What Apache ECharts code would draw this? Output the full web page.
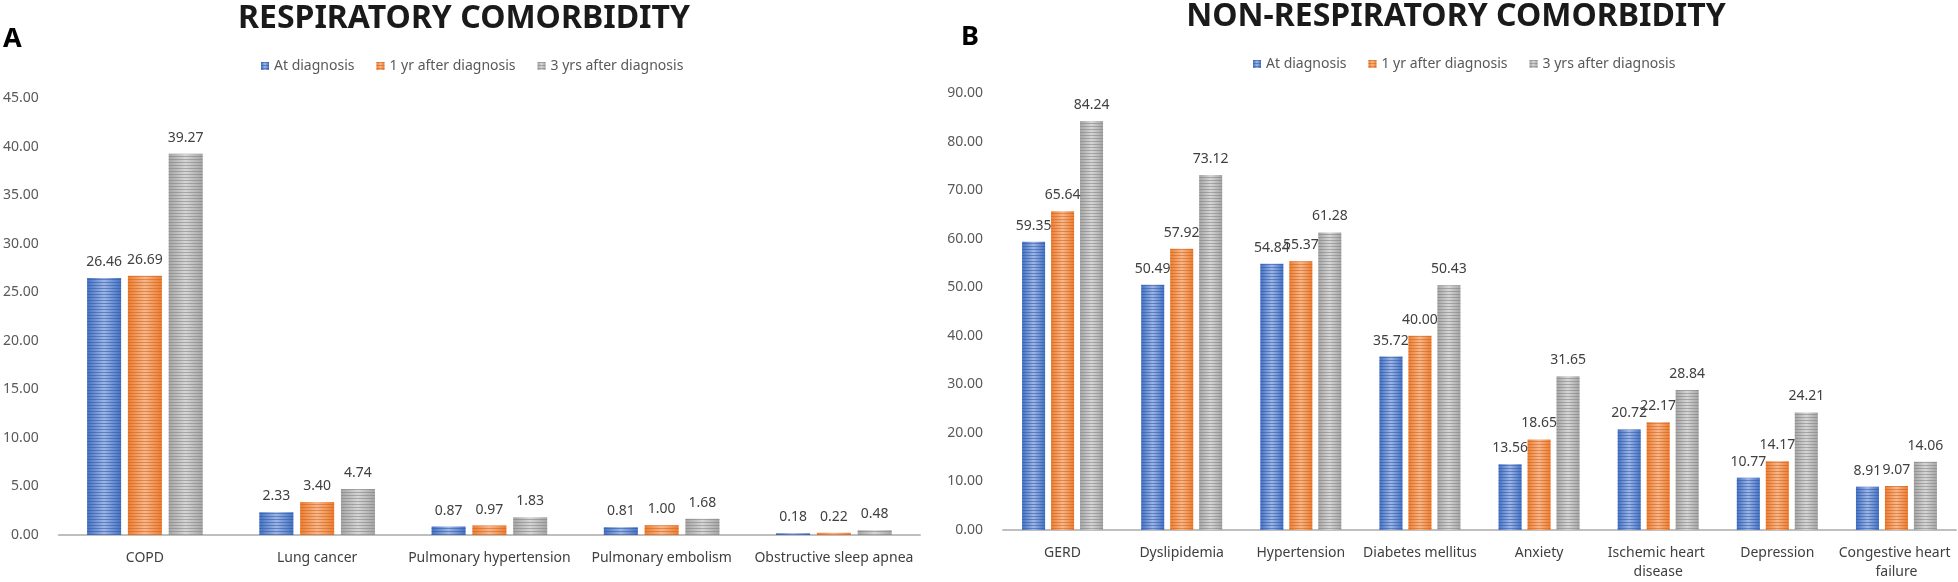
<!DOCTYPE html>
<html>
<head>
<meta charset="utf-8">
<script src="https://cdn.jsdelivr.net/npm/echarts@6/dist/echarts.min.js"></script>
<style>
  html, body { margin: 0; padding: 0; background: #fff; }
  #chart { width: 1958px; height: 582px; }
</style>
</head>
<body>
<div id="chart"></div>
<script>
const seriesNames = ['At diagnosis', '1 yr after diagnosis', '3 yrs after diagnosis'];

const respCategories = ['COPD', 'Lung cancer', 'Pulmonary hypertension', 'Pulmonary embolism', 'Obstructive sleep apnea'];
const respAtDiagnosis = [26.46, 2.33, 0.87, 0.81, 0.18];
const respOneYear = [26.69, 3.40, 0.97, 1.00, 0.22];
const respThreeYears = [39.27, 4.74, 1.83, 1.68, 0.48];

const nonRespCategories = ['GERD', 'Dyslipidemia', 'Hypertension', 'Diabetes mellitus', 'Anxiety', 'Ischemic heart disease', 'Depression', 'Congestive heart failure'];
const nonRespAtDiagnosis = [59.35, 50.49, 54.84, 35.72, 13.56, 20.72, 10.77, 8.91];
const nonRespOneYear = [65.64, 57.92, 55.37, 40.00, 18.65, 22.17, 14.17, 9.07];
const nonRespThreeYears = [84.24, 73.12, 61.28, 50.43, 31.65, 28.84, 24.21, 14.06];

const respAxis = { min: 0, max: 45, interval: 5 };
const nonRespAxis = { min: 0, max: 90, interval: 10 };

const palette = [
  { base: '#4472C4', light: '#9db6e6', stripe: 'rgba(47, 85, 160, 0.55)' },
  { base: '#ED7D31', light: '#f7b88c', stripe: 'rgba(204, 96, 28, 0.55)' },
  { base: '#A5A5A5', light: '#d6d6d6', stripe: 'rgba(128, 128, 128, 0.55)' },
];

const FONT = '"Noto Sans", "Open Sans", sans-serif';

function barStyle(i) {
  const p = palette[i];
  return {
    color: new echarts.graphic.LinearGradient(0, 0, 1, 0, [
      { offset: 0, color: p.base },
      { offset: 0.5, color: p.light },
      { offset: 1, color: p.base },
    ]),
    decal: {
      symbol: 'rect',
      symbolSize: 1,
      dashArrayX: [1, 0],
      dashArrayY: [1, 2],
      rotation: 0,
      color: p.stripe,
    },
  };
}

function makeSeries(name, data, idx, axisIdx, barWidth, barGap) {
  return {
    name,
    type: 'bar',
    xAxisIndex: axisIdx,
    yAxisIndex: axisIdx,
    data,
    barWidth,
    barGap,
    itemStyle: barStyle(idx),
    label: {
      show: true,
      position: 'top',
      distance: 9,
      color: '#404040',
      fontSize: 14,
      fontFamily: FONT,
      formatter: p => p.value.toFixed(2),
    },
  };
}

function legendAt(left, top) {
  return {
    data: seriesNames,
    left,
    top,
    icon: 'rect',
    itemWidth: 8,
    itemHeight: 8,
    itemGap: 22,
    textStyle: { color: '#595959', fontSize: 14, fontFamily: FONT },
  };
}

function valueAxis(gridIndex, range) {
  return {
    type: 'value',
    gridIndex,
    min: range.min,
    max: range.max,
    interval: range.interval,
    axisLine: { show: false },
    axisTick: { show: false },
    splitLine: { show: false },
    axisLabel: {
      color: '#595959',
      fontSize: 14,
      fontFamily: FONT,
      margin: 20,
      formatter: v => v.toFixed(2),
    },
  };
}

function categoryAxis(gridIndex, data, extraLabel) {
  return {
    type: 'category',
    gridIndex,
    data,
    axisLine: { lineStyle: { color: '#BFBFBF', width: 2 } },
    axisTick: { show: false },
    axisLabel: Object.assign({
      interval: 0,
      color: '#404040',
      fontSize: 14,
      fontFamily: FONT,
      margin: 14,
      lineHeight: 19,
    }, extraLabel || {}),
  };
}

const chart = echarts.init(document.getElementById('chart'));

chart.setOption({
  animation: false,
  graphic: [
    { type: 'text', x: 464, y: 19, style: { text: 'RESPIRATORY COMORBIDITY', font: 'bold 32px ' + FONT, fill: '#1a1a1a', textAlign: 'center', align: 'center', textVerticalAlign: 'middle', verticalAlign: 'middle' } },
    { type: 'text', x: 1456, y: 17, style: { text: 'NON-RESPIRATORY COMORBIDITY', font: 'bold 32px ' + FONT, fill: '#1a1a1a', textAlign: 'center', align: 'center', textVerticalAlign: 'middle', verticalAlign: 'middle' } },
    { type: 'text', x: 3, y: 39, style: { text: 'A', font: 'bold 27px ' + FONT, fill: '#000', textVerticalAlign: 'middle', verticalAlign: 'middle' } },
    { type: 'text', x: 961, y: 37, style: { text: 'B', font: 'bold 27px ' + FONT, fill: '#000', textVerticalAlign: 'middle', verticalAlign: 'middle' } },
  ],
  legend: [legendAt(256, 54), legendAt(1248, 52)],
  grid: [
    { left: 56, right: 1038, top: 98, bottom: 47 },
    { left: 1003, right: 2, top: 93, bottom: 47 },
  ],
  xAxis: [
    categoryAxis(0, respCategories),
    categoryAxis(1, nonRespCategories, { width: 116, overflow: 'break' }),
  ],
  yAxis: [valueAxis(0, respAxis), valueAxis(1, nonRespAxis)],
  series: [
    makeSeries(seriesNames[0], respAtDiagnosis, 0, 0, 34, '20%'),
    makeSeries(seriesNames[1], respOneYear, 1, 0, 34, '20%'),
    makeSeries(seriesNames[2], respThreeYears, 2, 0, 34, '20%'),
    makeSeries(seriesNames[0], nonRespAtDiagnosis, 0, 1, 23, '26%'),
    makeSeries(seriesNames[1], nonRespOneYear, 1, 1, 23, '26%'),
    makeSeries(seriesNames[2], nonRespThreeYears, 2, 1, 23, '26%'),
  ],
});
</script>
</body>
</html>
